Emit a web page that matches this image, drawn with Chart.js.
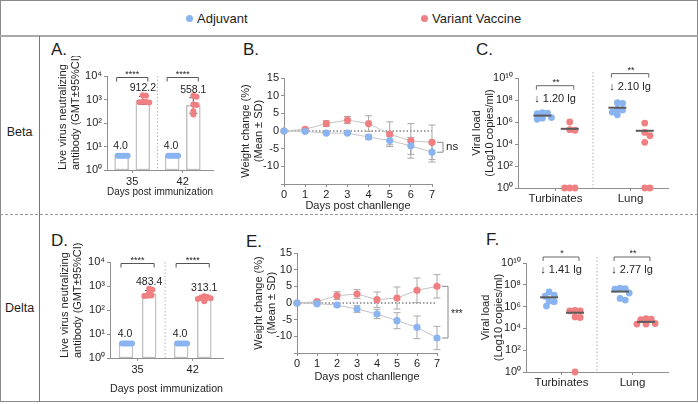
<!DOCTYPE html>
<html>
<head>
<meta charset="utf-8">
<script src="https://cdn.jsdelivr.net/npm/chart.js@4.4.1/dist/chart.umd.min.js"></script>
<style>
  body { margin: 0; background: #fff; }
  #fig { position: relative; width: 698px; height: 404px; overflow: hidden; background: #fff;
         font-family: 'Liberation Sans', Arial, Helvetica, sans-serif; color: #1e1e1e; }
  #fig canvas { position: absolute; }
  .t { position: absolute; white-space: nowrap; line-height: 1; }
  .ln { position: absolute; box-sizing: border-box; }
  .dot { position: absolute; width: 7px; height: 7px; border-radius: 50%; }
</style>
</head>
<body>
<div id="fig">
  <div class="ln" style="left:0;top:0;width:698px;height:402px;border:1px solid #8a8a8a;"></div>
  <div class="ln" style="left:0;top:35px;width:698px;height:2px;background:#a8a8a8;"></div>
  <div class="ln" style="left:39px;top:36px;width:1px;height:366px;background:#777;"></div>
  <div class="ln" style="left:0;top:214px;width:698px;height:0;border-top:1px dashed #9a9a9a;"></div>

  <div class="dot" style="left:186px;top:15px;background:rgb(137,180,240)"></div>
  <div class="t" style="left:197px;top:12px;font-size:13px">Adjuvant</div>
  <div class="dot" style="left:421px;top:15px;background:rgb(240,127,130)"></div>
  <div class="t" style="left:432px;top:12px;font-size:13px">Variant Vaccine</div>

  <div class="t" style="left:0;width:39px;text-align:center;top:126px;font-size:12.5px">Beta</div>
  <div class="t" style="left:0;width:39px;text-align:center;top:302px;font-size:12.5px">Delta</div>

  <div class="t" style="left:51px;top:41px;font-size:17px">A.</div>
  <div class="t" style="left:243px;top:41px;font-size:17px">B.</div>
  <div class="t" style="left:476px;top:41px;font-size:17px">C.</div>
  <div class="t" style="left:51px;top:232px;font-size:17px">D.</div>
  <div class="t" style="left:246px;top:233px;font-size:17px">E.</div>
  <div class="t" style="left:486px;top:231px;font-size:17px">F.</div>

  <canvas id="cA" width="169" height="147" style="left:50px;top:56px"></canvas>
  <canvas id="cB" width="245" height="161" style="left:225px;top:56px"></canvas>
  <canvas id="cC" width="233" height="152" style="left:462px;top:56px"></canvas>
  <canvas id="cD" width="179" height="168" style="left:50px;top:232px"></canvas>
  <canvas id="cE" width="242" height="156" style="left:238px;top:232px"></canvas>
  <canvas id="cF" width="225" height="160" style="left:470px;top:232px"></canvas>
</div>

<script>
// ---------- data ----------
// A / D : live virus neutralizing antibody
const immDays = ['35', '42'];
const nabTicks = [1, 10, 100, 1000, 10000];
const nabStars = ['****', '****'];

const betaGmtAdj = [4.0, 4.0];
const betaGmtVac = [912.2, 558.1];
const betaCiVac = [[620, 1350], [260, 1200]];
const betaNabAdj = [[4, 4, 4, 4, 4, 4], [4, 4, 4, 4, 4, 4]];
const betaNabVac = [[1500, 1450, 800, 780, 760, 740], [1450, 1300, 620, 580, 320, 230]];

const deltaGmtAdj = [4.0, 4.0];
const deltaGmtVac = [483.4, 313.1];
const deltaCiVac = [[360, 650], [260, 370]];
const deltaNabAdj = [[4, 4, 4, 4, 4, 4], [4, 4, 4, 4, 4, 4]];
const deltaNabVac = [[760, 700, 520, 400, 390, 380], [370, 350, 330, 310, 290, 230]];

// B / E : weight change after challenge
const chDays = [0, 1, 2, 3, 4, 5, 6, 7];
const betaWtAdj = [0, -0.1, -0.6, -0.6, -1.7, -2.7, -4.2, -6.0];
const betaSdAdj = [0, 0.3, 0.4, 0.4, 0.6, 1.2, 2.4, 2.8];
const betaWtVac = [0, 0.5, 2.1, 3.1, 2.1, -0.9, -2.8, -3.2];
const betaSdVac = [0, 0.3, 0.8, 1.0, 2.2, 3.5, 4.9, 4.9];
const betaWtSig = 'ns';

const deltaWtAdj = [0, -0.2, -0.6, -1.8, -3.3, -5.3, -7.3, -10.5];
const deltaSdAdj = [0, 0.3, 0.5, 1.0, 1.4, 2.4, 3.4, 3.5];
const deltaWtVac = [0, 0.4, 2.2, 2.7, 1.0, 1.5, 3.8, 5.0];
const deltaSdVac = [0, 0.4, 1.2, 1.3, 2.3, 3.3, 3.7, 3.5];
const deltaWtSig = '***';

// C / F : viral load, log10 copies/ml
const tissues = ['Turbinates', 'Lung'];
const vlTicks = [0, 2, 4, 6, 8, 10];

const betaVlAdj = [[6.85, 6.8, 6.75, 6.4, 6.35, 6.25], [7.75, 7.7, 7.15, 7.1, 6.9, 6.65]];
const betaVlVac = [[6.0, 5.3, 5.25, 0, 0, 0], [5.9, 5.05, 4.75, 4.15, 0, 0]];
const betaVlMidAdj = [6.58, 7.3];
const betaVlMidVac = [5.38, 5.2];
const betaVlDrop = ['1.20', '2.10'];
const betaVlStars = ['**', '**'];

const deltaVlAdj = [[7.35, 7.05, 6.95, 6.5, 6.45, 6.05], [7.7, 7.65, 7.6, 7.25, 6.75, 6.6]];
const deltaVlVac = [[5.65, 5.6, 5.6, 5.05, 5.0, 0], [4.9, 4.85, 4.8, 4.45, 4.4, 4.4]];
const deltaVlMidAdj = [6.85, 7.38];
const deltaVlMidVac = [5.44, 4.6];
const deltaVlDrop = ['1.41', '2.77'];
const deltaVlStars = ['*', '**'];

// ---------- style ----------
const BLUE = 'rgb(137,180,240)';
const RED = 'rgb(240,127,130)';
const AXIS = '#8f8f8f';
const INK = '#1e1e1e';
const LINE = '#c4c4c4';
const FONT = "'Liberation Sans', Arial, Helvetica, sans-serif";

Chart.defaults.font.family = FONT;
Chart.defaults.font.size = 11;
Chart.defaults.color = INK;

const SUP = '⁰¹²³⁴⁵⁶⁷⁸⁹';
function pow10(n) {
    return '10' + String(n).split('').map(c => SUP[+c]).join('');
}

function seg(ctx, pts) {
    ctx.beginPath();
    pts.forEach(([x, y], i) => i ? ctx.lineTo(x, y) : ctx.moveTo(x, y));
    ctx.stroke();
}

function baseScale(o) {
    return Object.assign({
        offset: false,
        grid: { drawOnChartArea: false, drawTicks: true, tickLength: 3, color: AXIS, offset: false },
        border: { color: AXIS, width: 1 }
    }, o);
}

function commonOptions(box, pluginOpts) {
    return {
        responsive: false,
        animation: false,
        devicePixelRatio: 1,
        layout: { padding: { left: 0, top: box.top, right: box.right, bottom: 0 } },
        plugins: Object.assign({ legend: { display: false }, tooltip: { enabled: false } }, pluginOpts)
    };
}

function dot(color, r) {
    return { pointRadius: r, pointBackgroundColor: color, pointBorderColor: color, pointBorderWidth: 0, clip: false };
}

// spread dots sideways so they don't pile up (pixel space, greedy)
function swarm(chart, dsIndex, groups, centers, shift, gap) {
    const xs = chart.scales.x, ys = chart.scales.y;
    const pts = [];
    groups.forEach((vals, g) => {
        const cx = xs.getPixelForValue(centers[g] + shift);
        const placed = [];
        vals.forEach(v => {
            const py = ys.getPixelForValue(v);
            let off = 0;
            for (let k = 0; k < 80; k++) {
                off = (k % 2 ? 1 : -1) * Math.ceil(k / 2) * gap / 4;
                if (placed.every(p => Math.hypot(p[0] - off, p[1] - py) >= gap)) break;
            }
            placed.push([off, py]);
            pts.push({ x: xs.getValueForPixel(cx + off), y: v });
        });
    });
    chart.data.datasets[dsIndex].data = pts;
}

// ---------- neutralizing antibody panels ----------
const NAB_ADJ = -0.21, NAB_VAC = 0.21;

const nabMarks = {
    id: 'nabMarks',
    afterDatasetDraw(chart, args, o) {
        if (args.index !== 1) return;
        const { ctx, scales: { x, y } } = chart;
        ctx.save();
        ctx.strokeStyle = '#555';
        ctx.lineWidth = 1;
        o.centers.forEach((c, i) => {
            const xv = x.getPixelForValue(c + NAB_VAC);
            const lo = y.getPixelForValue(o.ci[i][0]), hi = y.getPixelForValue(o.ci[i][1]);
            seg(ctx, [[xv, lo], [xv, hi]]);
            seg(ctx, [[xv - 4, lo], [xv + 4, lo]]);
            seg(ctx, [[xv - 4, hi], [xv + 4, hi]]);
        });
        ctx.restore();
    },
    afterDatasetsDraw(chart, args, o) {
        const { ctx, chartArea: ca, scales: { x, y } } = chart;
        ctx.save();
        // separator between the two days
        ctx.strokeStyle = '#b8b8b8';
        ctx.setLineDash([1.5, 2]);
        const sx = x.getPixelForValue(1);
        seg(ctx, [[sx, ca.top], [sx, ca.bottom]]);
        ctx.setLineDash([]);
        ctx.textAlign = 'center';
        ctx.textBaseline = 'alphabetic';
        o.centers.forEach((c, i) => {
            const xa = x.getPixelForValue(c + NAB_ADJ), xv = x.getPixelForValue(c + NAB_VAC);
            ctx.fillStyle = INK;
            ctx.font = '10.5px ' + FONT;
            ctx.fillText(o.adj[i].toFixed(1), xa - 1, y.getPixelForValue(o.adj[i]) - 7);
            ctx.fillText(o.vac[i].toFixed(1), xv, y.getPixelForValue(o.ci[i][1]) - 5);
            const by = ca.top + 1.5;
            ctx.strokeStyle = '#555';
            seg(ctx, [[xa - 5, by + 4], [xa - 5, by], [xv + 5, by], [xv + 5, by + 4]]);
            ctx.font = '9px ' + FONT;
            ctx.fillText(o.stars[i], (xa + xv) / 2, by - 1);
        });
        ctx.restore();
    }
};

function nabChart(id, gmtAdj, gmtVac, ciVac, dotsAdj, dotsVac, box) {
    const centers = [0.5, 1.5];
    const bar = { backgroundColor: '#fff', borderColor: '#c2c2c2', borderWidth: 1.5, borderSkipped: false,
                  barThickness: 14, maxBarThickness: 14, grouped: false, order: 3 };
    const chart = new Chart(document.getElementById(id), {
        type: 'bar',
        data: {
            datasets: [
                Object.assign({ type: 'bar', data: centers.map((c, i) => ({ x: c + NAB_ADJ, y: gmtAdj[i] })) }, bar),
                Object.assign({ type: 'bar', data: centers.map((c, i) => ({ x: c + NAB_VAC, y: gmtVac[i] })) }, bar),
                Object.assign({ type: 'scatter', data: [], order: 2 }, dot(BLUE, 3)),
                Object.assign({ type: 'scatter', data: [], order: 1 }, dot(RED, 3))
            ]
        },
        options: Object.assign(commonOptions(box, {
            nabMarks: { centers, adj: gmtAdj, vac: gmtVac, ci: ciVac, stars: nabStars }
        }), {
            scales: {
                x: baseScale({
                    type: 'linear', min: 0, max: box.xmax,
                    afterBuildTicks: s => { s.ticks = centers.map(v => ({ value: v })); },
                    afterFit: s => { s.height = box.bottom; },
                    ticks: { autoSkip: false, maxRotation: 0, padding: 2, callback: (v, i) => immDays[i] },
                    title: { display: true, text: 'Days post immunization', padding: { top: 0, bottom: 4 } }
                }),
                y: baseScale({
                    type: 'logarithmic', min: 1, max: 10000,
                    afterBuildTicks: s => { s.ticks = nabTicks.map(v => ({ value: v })); },
                    afterFit: s => { s.width = box.left; },
                    ticks: { autoSkip: false, padding: 2, callback: v => pow10(Math.round(Math.log10(v))) },
                    title: { display: true, align: 'start', text: ['Live virus neutralizing', 'antibody (GMT±95%CI)'],
                             padding: { top: box.titlePad, bottom: 0 } }
                })
            }
        }),
        plugins: [nabMarks]
    });
    swarm(chart, 2, dotsAdj, centers, NAB_ADJ, 2.0);
    swarm(chart, 3, dotsVac, centers, NAB_VAC, 3.2);
    chart.update('none');
}

// ---------- weight change panels ----------
const wtMarks = {
    id: 'wtMarks',
    beforeDatasetsDraw(chart, args, o) {
        const { ctx, scales: { x, y } } = chart;
        ctx.save();
        ctx.lineWidth = 1;
        ctx.strokeStyle = '#444';
        ctx.setLineDash([1.5, 2]);
        seg(ctx, [[x.getPixelForValue(chDays[0]), y.getPixelForValue(0)],
                  [x.getPixelForValue(chDays[chDays.length - 1]), y.getPixelForValue(0)]]);
        ctx.setLineDash([]);
        ctx.strokeStyle = '#a9a9a9';
        [[o.vac, o.vacSd], [o.adj, o.adjSd]].forEach(([m, sd]) => {
            chDays.forEach((d, i) => {
                if (!sd[i]) return;
                const px = x.getPixelForValue(d);
                const top = y.getPixelForValue(m[i] + sd[i]), bot = y.getPixelForValue(m[i] - sd[i]);
                seg(ctx, [[px, top], [px, bot]]);
                seg(ctx, [[px - 3.5, top], [px + 3.5, top]]);
                seg(ctx, [[px - 3.5, bot], [px + 3.5, bot]]);
            });
        });
        ctx.restore();
    },
    afterDatasetsDraw(chart, args, o) {
        const { ctx, chartArea: ca, scales: { y } } = chart;
        const last = chDays.length - 1;
        const y1 = y.getPixelForValue(o.vac[last]), y2 = y.getPixelForValue(o.adj[last]);
        const x0 = ca.right + 5, x1 = ca.right + 11;
        ctx.save();
        ctx.strokeStyle = '#888';
        ctx.lineWidth = 1;
        seg(ctx, [[x0, y1], [x1, y1], [x1, y2], [x0, y2]]);
        ctx.fillStyle = INK;
        ctx.font = (o.sig === 'ns' ? '11.5px ' : '10px ') + FONT;
        ctx.textAlign = 'left';
        ctx.textBaseline = 'middle';
        ctx.fillText(o.sig, x1 + 3, (y1 + y2) / 2 + (o.sig === 'ns' ? 0 : 2));
        ctx.restore();
    }
};

function wtChart(id, adj, adjSd, vac, vacSd, sig, box) {
    const line = { showLine: true, borderColor: LINE, borderWidth: 1 };
    new Chart(document.getElementById(id), {
        type: 'scatter',
        data: {
            datasets: [
                Object.assign({ data: chDays.map((d, i) => ({ x: d, y: vac[i] })), order: 2 }, line, dot(RED, 3.6)),
                Object.assign({ data: chDays.map((d, i) => ({ x: d, y: adj[i] })), order: 1 }, line, dot(BLUE, 3.6))
            ]
        },
        options: Object.assign(commonOptions(box, {
            wtMarks: { adj, adjSd, vac, vacSd, sig }
        }), {
            scales: {
                x: baseScale({
                    type: 'linear', min: 0, max: 7,
                    afterFit: s => { s.height = box.bottom; },
                    ticks: { stepSize: 1, autoSkip: false, maxRotation: 0, padding: 1 },
                    title: { display: true, text: 'Days post chanllenge', padding: { top: 0, bottom: 4 } }
                }),
                y: baseScale({
                    type: 'linear', min: -15, max: 15,
                    afterFit: s => { s.width = box.left; },
                    ticks: { stepSize: 5, autoSkip: false, padding: 2, callback: v => v === -15 ? '' : String(v) },
                    title: { display: true, text: ['Weight change (%)', '(Mean ± SD)'], padding: { top: box.titlePad, bottom: 0 } }
                })
            }
        }),
        plugins: [wtMarks]
    });
}

// ---------- viral load panels ----------
const VL_ADJ = -0.175, VL_VAC = 0.19;

const vlMarks = {
    id: 'vlMarks',
    beforeDatasetsDraw(chart, args, o) {
        const { ctx, chartArea: ca, scales: { x } } = chart;
        ctx.save();
        ctx.strokeStyle = '#b0b0b0';
        ctx.lineWidth = 1;
        ctx.setLineDash([1.5, 2]);
        const sx = x.getPixelForValue(1);
        seg(ctx, [[sx, ca.top - 6], [sx, ca.bottom]]);
        ctx.restore();
    },
    afterDatasetsDraw(chart, args, o) {
        const { ctx, scales: { x, y } } = chart;
        ctx.save();
        o.centers.forEach((c, i) => {
            const xa = x.getPixelForValue(c + VL_ADJ), xv = x.getPixelForValue(c + VL_VAC);
            ctx.strokeStyle = '#5a5a5a';
            ctx.lineWidth = 2;
            const ma = y.getPixelForValue(o.midAdj[i]), mv = y.getPixelForValue(o.midVac[i]);
            seg(ctx, [[xa - 9, ma], [xa + 9, ma]]);
            seg(ctx, [[xv - 9, mv], [xv + 9, mv]]);
            const by = y.getPixelForValue(o.bracketAt[i]);
            ctx.strokeStyle = '#666';
            ctx.lineWidth = 1;
            seg(ctx, [[xa - 6, by + 4], [xa - 6, by], [xv + 4, by], [xv + 4, by + 4]]);
            ctx.fillStyle = INK;
            ctx.textAlign = 'center';
            ctx.textBaseline = 'alphabetic';
            ctx.font = '9px ' + FONT;
            ctx.fillText(o.stars[i], (xa + xv) / 2, by - 1);
            ctx.font = '11px ' + FONT;
            ctx.textBaseline = 'middle';
            ctx.fillText('↓ ' + o.drop[i] + ' lg', (xa + xv) / 2 - 1, by + 13);
        });
        ctx.restore();
    }
};

function vlChart(id, adj, vac, midAdj, midVac, drop, stars, box) {
    const centers = [0.5, 1.5];
    const chart = new Chart(document.getElementById(id), {
        type: 'scatter',
        data: {
            datasets: [
                Object.assign({ data: [], order: 2 }, dot(BLUE, 3.4)),
                Object.assign({ data: [], order: 1 }, dot(RED, 3.4))
            ]
        },
        options: Object.assign(commonOptions(box, {
            vlMarks: { centers, midAdj, midVac, drop, stars, bracketAt: box.bracketAt }
        }), {
            scales: {
                x: baseScale({
                    type: 'linear', min: 0, max: 2,
                    afterBuildTicks: s => { s.ticks = centers.map(v => ({ value: v })); },
                    afterFit: s => { s.height = box.bottom; },
                    ticks: { autoSkip: false, maxRotation: 0, padding: 1, font: { size: 11.5 }, callback: (v, i) => tissues[i] }
                }),
                y: baseScale({
                    type: 'linear', min: 0, max: 10,
                    afterBuildTicks: s => { s.ticks = vlTicks.map(v => ({ value: v })); },
                    afterFit: s => { s.width = box.left; },
                    ticks: { autoSkip: false, padding: 2, callback: v => pow10(v) },
                    title: { display: true, text: ['Viral load', '(Log10 copies/ml)'], padding: { top: box.titlePad, bottom: 0 } }
                })
            }
        }),
        plugins: [vlMarks]
    });
    swarm(chart, 0, adj, centers, VL_ADJ, 5.2);
    swarm(chart, 1, vac, centers, VL_VAC, 5.2);
    chart.update('none');
}

// ---------- build ----------
nabChart('cA', betaGmtAdj, betaGmtVac, betaCiVac, betaNabAdj, betaNabVac,
    { left: 57, top: 20, right: 6, bottom: 33, titlePad: 6.4, xmax: 2.1 });
nabChart('cD', deltaGmtAdj, deltaGmtVac, deltaCiVac, deltaNabAdj, deltaNabVac,
    { left: 60, top: 30, right: 6, bottom: 42, titlePad: 8.4, xmax: 2.05 });

wtChart('cB', betaWtAdj, betaSdAdj, betaWtVac, betaSdVac, betaWtSig,
    { left: 59, top: 22, right: 38, bottom: 33, titlePad: 14.4 });
wtChart('cE', deltaWtAdj, deltaSdAdj, deltaWtVac, deltaSdVac, deltaWtSig,
    { left: 59, top: 21, right: 43, bottom: 35, titlePad: 14.4 });

vlChart('cC', betaVlAdj, betaVlVac, betaVlMidAdj, betaVlMidVac, betaVlDrop, betaVlStars,
    { left: 56, top: 22, right: 27, bottom: 20, titlePad: 8.4, bracketAt: [9.3, 10.4] });
vlChart('cF', deltaVlAdj, deltaVlVac, deltaVlMidAdj, deltaVlMidVac, deltaVlDrop, deltaVlStars,
    { left: 56, top: 31, right: 27, bottom: 20, titlePad: 9.4, bracketAt: [10.55, 10.55] });
</script>
</body>
</html>
